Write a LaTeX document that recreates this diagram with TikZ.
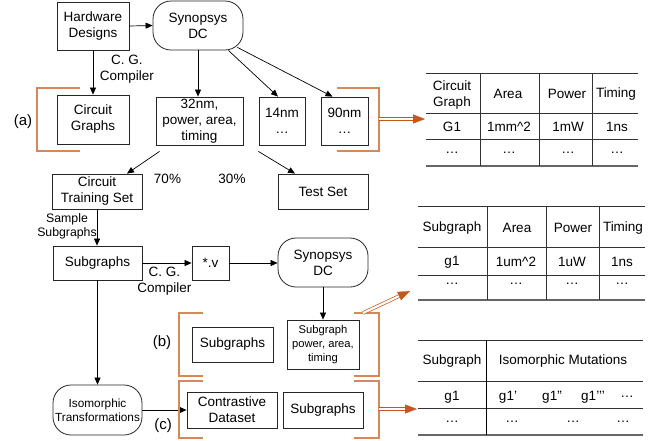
\documentclass[tikz,border=0pt]{standalone}
\usepackage{fontspec}
\setmainfont{Liberation Sans}
\usetikzlibrary{arrows.meta,calc}
\definecolor{brk}{HTML}{D8875A}
\definecolor{arr}{HTML}{C4581A}
\newcommand{\fm}{\fontsize{13.5}{16}\selectfont}
\newcommand{\fsl}{\fontsize{12.3}{14}\selectfont}
\newcommand{\fsm}{\fontsize{11.8}{14}\selectfont}
\newcommand{\fss}{\fontsize{11.2}{14}\selectfont}
\newcommand{\fbig}{\fontsize{15}{18}\selectfont}
\begin{document}
\begin{tikzpicture}[x=1pt,y=-1pt,
 box/.style={draw=black!85, line width=0.8pt, align=center, inner sep=0pt, font=\fm},
 rbox/.style={box, rounded corners=18pt},
 lab/.style={align=center, inner sep=0pt, font=\fm},
 conn/.style={line width=0.7pt, -{Triangle[length=7pt,width=6pt]}},
 brack/.style={draw=brk, line width=1.1pt},
 tline/.style={line width=0.8pt, draw=black!80},
 tbot/.style={line width=1.6pt, draw=black!60},
 dbl/.style={draw=arr, line width=0.7pt, double=white, double distance=2.2pt},
 ]
\useasboundingbox (0,0) rectangle (667,440);

% ---- top part
\node[box, minimum width=72pt, minimum height=48pt] (hd) at (93,26) {Hardware\\Designs};
\node[rbox, minimum width=90pt, minimum height=49pt] (dc) at (198,25.5) {Synopsys\\DC};
\node[box, minimum width=72pt, minimum height=49pt] (cg) at (93,119.5) {Circuit\\Graphs};
\node[box, minimum width=87pt, minimum height=48pt] (n32) at (199.5,121) {32nm,\\power, area,\\timing};
\node[box, minimum width=46pt, minimum height=48pt] (n14) at (282,121) {14nm\\…};
\node[box, minimum width=47pt, minimum height=48pt] (n90) at (344.5,121) {90nm\\…};
\node[box, minimum width=90pt, minimum height=35pt] (cts) at (97,191.5) {Circuit\\Training Set};
\node[box, minimum width=90pt, minimum height=35pt] (ts) at (323,191.5) {Test Set};

\node[lab] (cgc1) at (127,69) {C. G.\\Compiler};
\node[lab] (p70) at (167.5,179) {70\%};
\node[lab] (p30) at (232,179) {30\%};
\node[lab, font=\fbig] (la) at (23,122) {(a)};

\draw[conn] (hd.east) -- (dc.west);
\draw[conn] (hd.south) -- (cg.north);
\draw[conn] (dc.south) -- (dc.south |- n32.north);
\draw[conn] ([xshift=-15pt]dc.south east) -- ([xshift=-4pt]n14.north);
\draw[conn] ([xshift=-6pt,yshift=3pt]dc.south east) -- ([xshift=-12pt]n90.north);
\draw[conn] ([xshift=4pt,yshift=-6pt]n32.south west) -- ([xshift=30pt]cts.north);
\draw[conn] ([xshift=15pt,yshift=-6pt]n32.south east) -- ([xshift=-28pt]ts.north);

\draw[brack] (80,88) -- (37,88) -- (37,151) -- (80,151);
\draw[brack] (337,88) -- (379,88) -- (379,151) -- (337,151);

% ---- middle part
\node[box, minimum width=89pt, minimum height=34pt] (sg) at (97.5,263) {Subgraphs};
\node[box, minimum width=37pt, minimum height=34pt] (v) at (210.5,263) {*.v};
\node[rbox, minimum width=90pt, minimum height=49pt] (dc2) at (323,262.5) {Synopsys\\DC};
\node[box, minimum width=72pt, minimum height=49pt, font=\fss] (spat) at (323,344.5) {Subgraph\\power, area,\\timing};
\node[box, minimum width=81pt, minimum height=35pt] (sgb) at (232.5,344.5) {Subgraphs};
\node[lab, font=\fsl] (samp) at (67,226) {Sample\\Subgraphs};
\node[lab] (cgc2) at (164.5,281.5) {C. G.\\Compiler};
\node[lab, font=\fbig] (lb) at (162,343) {(b)};

\draw[conn] (cts.south) -- (cts.south |- sg.north);
\draw[conn] (sg.east) -- (v.west);
\draw[conn] (v.east) -- (dc2.west |- v.east);
\draw[conn] (dc2.south) -- (spat.north);

\draw[brack] (203,313) -- (179,313) -- (179,376) -- (203,376);
\draw[brack] (354,313) -- (379,313) -- (379,376) -- (354,376);

% ---- bottom part
\node[rbox, minimum width=89pt, minimum height=50pt, font=\fsm] (iso) at (97.5,410) {Isomorphic\\Transformations};
\node[box, minimum width=90pt, minimum height=36pt] (cd) at (232,410) {Contrastive\\Dataset};
\node[box, minimum width=80pt, minimum height=36pt] (sgc) at (323,410) {Subgraphs};
\node[lab, font=\fbig] (lc) at (163,426) {(c)};

\draw[conn] (sg.south) -- (sg.south |- iso.north);
\draw[conn] (iso.east) -- (cd.west);

\draw[brack] (203,381) -- (179,381) -- (179,438) -- (203,438);
\draw[brack] (354,381) -- (379,381) -- (379,438) -- (354,438);

% ---- double arrows
\coordinate (as) at (379,119); \coordinate (at) at (425,119);
\coordinate (bs) at (363,313); \coordinate (bt) at (410,291);
\coordinate (cs) at (379,409); \coordinate (ct) at (417,409);
\foreach \s/\t in {as/at,bs/bt,cs/ct}{
  \draw[dbl, shorten >=10pt] (\s) -- (\t);
  \draw[arr, line width=0.3pt, -{Triangle[length=12pt,width=9pt]}] ($(\t)!12pt!(\s)$) -- (\t);
}

% ---- table 1
\draw[tline] (426,73) -- (638,73);
\draw[tline] (426,113) -- (638,113);
\draw[tline] (426,139) -- (638,139);
\draw[tbot] (426,166) -- (638,166);
\foreach \x in {480,539,592} \draw[tline] (\x,73) -- (\x,166);
\node[lab] (t1h1) at (452,95) {Circuit\\Graph};
\node[lab] (t1h2) at (508,94) {Area};
\node[lab] (t1h3) at (567,94) {Power};
\node[lab] (t1h4) at (616,94) {Timing};
\node[lab] (t1a1) at (452,127) {G1};
\node[lab] (t1a2) at (509,127) {1mm\^{}2};
\node[lab] (t1a3) at (568,127) {1mW};
\node[lab] (t1a4) at (617,127) {1ns};
\node[lab] (t1b1) at (452,153) {…};
\node[lab] (t1b2) at (509,153) {…};
\node[lab] (t1b3) at (568,153) {…};
\node[lab] (t1b4) at (617,153) {…};

% ---- table 2
\draw[tline] (418,206) -- (645,206);
\draw[tline] (418,247) -- (645,247);
\draw[tline] (418,275) -- (645,275);
\draw[tbot] (418,300) -- (645,300);
\foreach \x in {487,546,599} \draw[tline] (\x,206) -- (\x,300);
\node[lab] (t2h1) at (452,228) {Subgraph};
\node[lab] (t2h2) at (517,228) {Area};
\node[lab] (t2h3) at (573,228) {Power};
\node[lab] (t2h4) at (623,228) {Timing};
\node[lab] (t2a1) at (452,262) {g1};
\node[lab] (t2a2) at (516,262) {1um\^{}2};
\node[lab] (t2a3) at (572,262) {1uW};
\node[lab] (t2a4) at (622,262) {1ns};
\node[lab] (t2b1) at (452,284) {…};
\node[lab] (t2b2) at (516,284) {…};
\node[lab] (t2b3) at (572,284) {…};
\node[lab] (t2b4) at (622,284) {…};

% ---- table 3
\draw[tline] (418,340) -- (643,340);
\draw[tline] (418,381) -- (643,381);
\draw[tline] (418,408) -- (643,408);
\draw[tbot] (418,435) -- (643,435);
\draw[line width=0.8pt] (486,340) -- (486,435);
\node[lab] (t3h1) at (452,361) {Subgraph};
\node[lab] (t3h2) at (563,361) {Isomorphic Mutations};
\node[lab] (t3a1) at (452,397) {g1};
\node[lab] (t3a2) at (508,397) {g1’};
\node[lab] (t3a3) at (552,397) {g1”};
\node[lab] (t3a4) at (593,397) {g1’’’};
\node[lab] (t3a5) at (627,397) {…};
\node[lab] (t3b1) at (452,422) {…};
\node[lab] (t3b2) at (512,422) {…};
\node[lab] (t3b3) at (573,422) {…};
\node[lab] (t3b4) at (623,422) {…};
\end{tikzpicture}
\end{document}
